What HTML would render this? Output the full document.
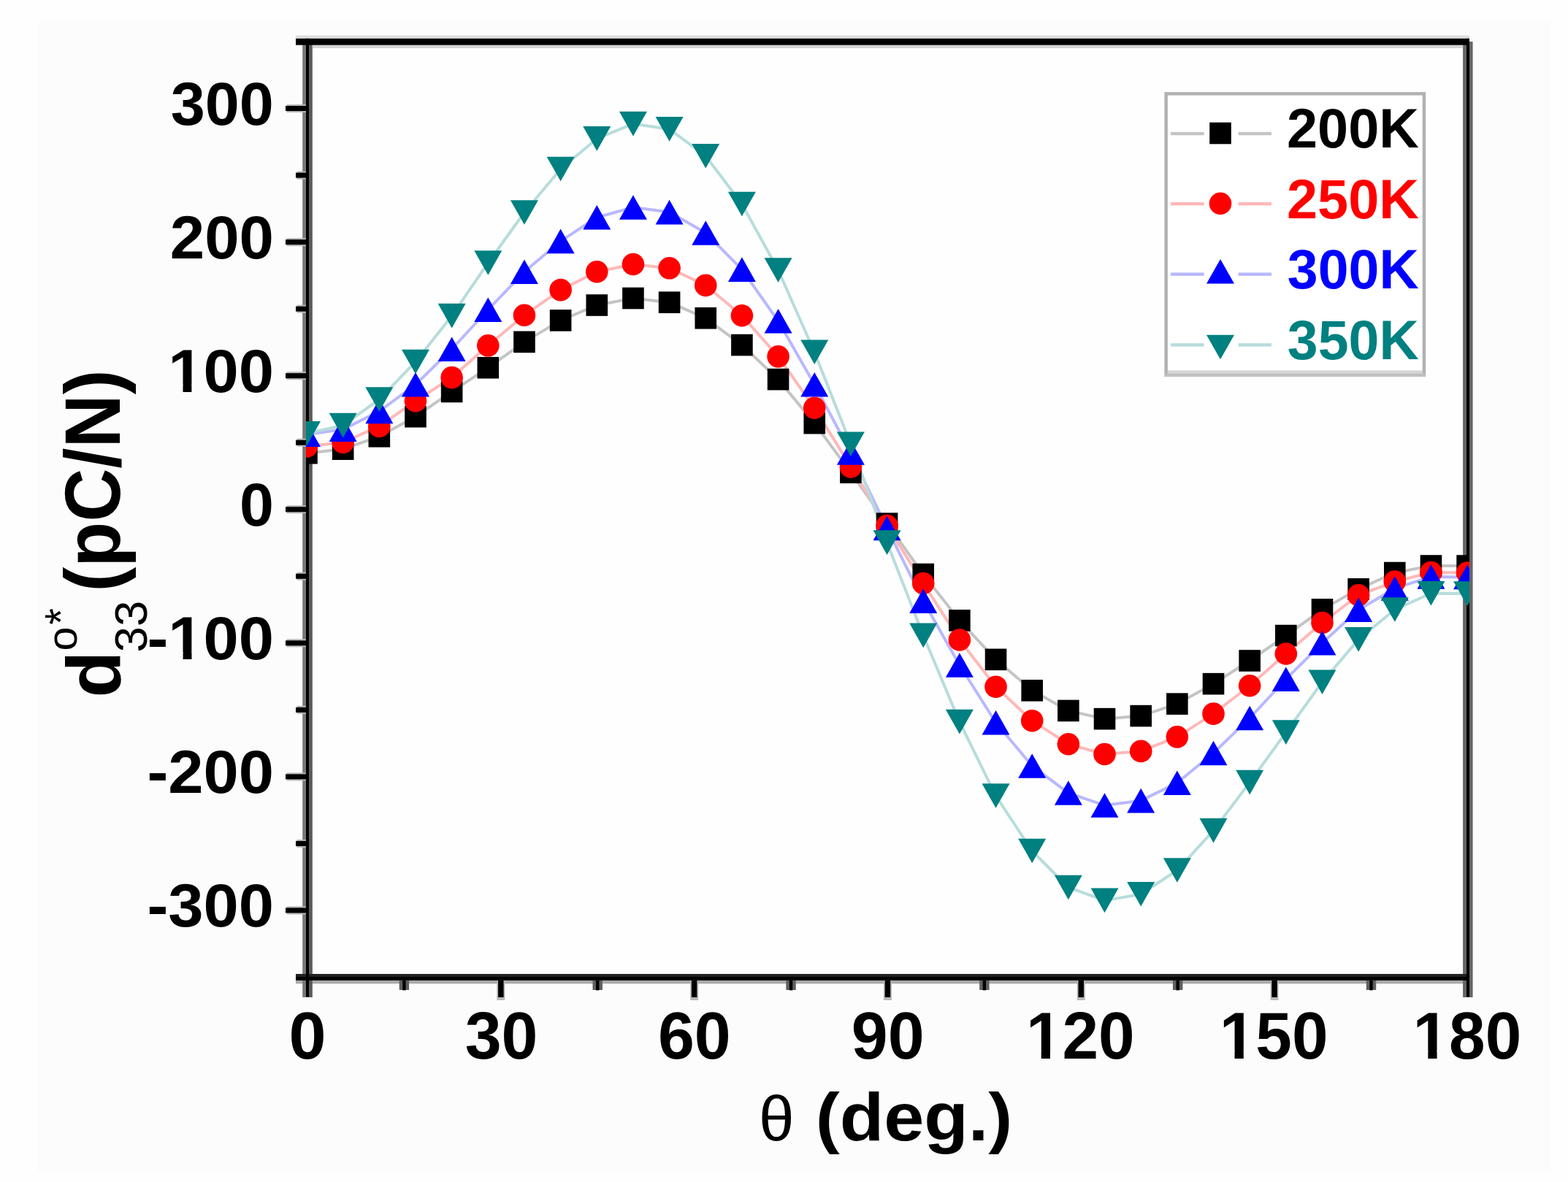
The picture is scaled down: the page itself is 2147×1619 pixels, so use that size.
<!DOCTYPE html><html><head><meta charset="utf-8"><title>d33 vs theta</title><style>html,body{margin:0;padding:0;background:#fefefe;}svg{display:block;}text{font-family:"Liberation Sans",Arial,sans-serif;}</style></head><body>
<svg width="2147" height="1619" viewBox="0 0 2147 1619">
<defs><clipPath id="pc"><rect x="419" y="40" width="1593" height="1310"/></clipPath></defs>
<rect x="0" y="0" width="2147" height="1619" fill="#fefefe"/>
<rect x="51" y="29" width="2072" height="1576" fill="#fcfcfc"/>
<rect x="421.0" y="57.3" width="1588.9" height="1281.1" fill="#fefefe"/>
<rect x="405" y="1342.8" width="1611" height="4.6" fill="#aaa"/>
<rect x="414.2" y="57" width="4.7" height="1309" fill="#777"/>
<rect x="423.1" y="57" width="4.7" height="1309" fill="#5a5a5a"/>
<rect x="2003.1" y="57" width="4.7" height="1309" fill="#666"/>
<rect x="2011.9" y="57" width="4.7" height="1309" fill="#666"/>
<rect x="405" y="48.5" width="1607" height="4.4" fill="#dedede"/>
<rect x="427.8" y="61.6" width="1575.3" height="4.4" fill="#d4d4d4"/>
<rect x="405" y="1334" width="1607" height="4.4" fill="#222"/>
<rect x="392.5" y="1241.46" width="26.5" height="11" fill="#b8b8b8"/>
<rect x="391.0" y="1243.46" width="28.0" height="7" fill="#000"/>
<rect x="406.5" y="1149.92" width="12.5" height="11" fill="#b8b8b8"/>
<rect x="405.0" y="1151.92" width="14.0" height="7" fill="#000"/>
<rect x="392.5" y="1058.39" width="26.5" height="11" fill="#b8b8b8"/>
<rect x="391.0" y="1060.39" width="28.0" height="7" fill="#000"/>
<rect x="406.5" y="966.86" width="12.5" height="11" fill="#b8b8b8"/>
<rect x="405.0" y="968.86" width="14.0" height="7" fill="#000"/>
<rect x="392.5" y="875.32" width="26.5" height="11" fill="#b8b8b8"/>
<rect x="391.0" y="877.32" width="28.0" height="7" fill="#000"/>
<rect x="406.5" y="783.78" width="12.5" height="11" fill="#b8b8b8"/>
<rect x="405.0" y="785.78" width="14.0" height="7" fill="#000"/>
<rect x="392.5" y="692.25" width="26.5" height="11" fill="#b8b8b8"/>
<rect x="391.0" y="694.25" width="28.0" height="7" fill="#000"/>
<rect x="406.5" y="600.72" width="12.5" height="11" fill="#b8b8b8"/>
<rect x="405.0" y="602.72" width="14.0" height="7" fill="#000"/>
<rect x="392.5" y="509.18" width="26.5" height="11" fill="#b8b8b8"/>
<rect x="391.0" y="511.18" width="28.0" height="7" fill="#000"/>
<rect x="406.5" y="417.64" width="12.5" height="11" fill="#b8b8b8"/>
<rect x="405.0" y="419.64" width="14.0" height="7" fill="#000"/>
<rect x="392.5" y="326.11" width="26.5" height="11" fill="#b8b8b8"/>
<rect x="391.0" y="328.11" width="28.0" height="7" fill="#000"/>
<rect x="406.5" y="234.57" width="12.5" height="11" fill="#b8b8b8"/>
<rect x="405.0" y="236.57" width="14.0" height="7" fill="#000"/>
<rect x="392.5" y="143.04" width="26.5" height="11" fill="#b8b8b8"/>
<rect x="391.0" y="145.04" width="28.0" height="7" fill="#000"/>
<rect x="546.71" y="1343" width="13.4" height="13" fill="#606060"/>
<rect x="551.21" y="1343" width="4.4" height="13.4" fill="#000"/>
<rect x="680.32" y="1343" width="11" height="27" fill="#b8b8b8"/>
<rect x="682.07" y="1343" width="7.5" height="23" fill="#000"/>
<rect x="811.52" y="1343" width="13.4" height="13" fill="#606060"/>
<rect x="816.02" y="1343" width="4.4" height="13.4" fill="#000"/>
<rect x="945.13" y="1343" width="11" height="27" fill="#b8b8b8"/>
<rect x="946.88" y="1343" width="7.5" height="23" fill="#000"/>
<rect x="1076.34" y="1343" width="13.4" height="13" fill="#606060"/>
<rect x="1080.84" y="1343" width="4.4" height="13.4" fill="#000"/>
<rect x="1209.95" y="1343" width="11" height="27" fill="#b8b8b8"/>
<rect x="1211.70" y="1343" width="7.5" height="23" fill="#000"/>
<rect x="1341.16" y="1343" width="13.4" height="13" fill="#606060"/>
<rect x="1345.66" y="1343" width="4.4" height="13.4" fill="#000"/>
<rect x="1474.77" y="1343" width="11" height="27" fill="#b8b8b8"/>
<rect x="1476.52" y="1343" width="7.5" height="23" fill="#000"/>
<rect x="1605.97" y="1343" width="13.4" height="13" fill="#606060"/>
<rect x="1610.47" y="1343" width="4.4" height="13.4" fill="#000"/>
<rect x="1739.58" y="1343" width="11" height="27" fill="#b8b8b8"/>
<rect x="1741.33" y="1343" width="7.5" height="23" fill="#000"/>
<rect x="1870.79" y="1343" width="13.4" height="13" fill="#606060"/>
<rect x="1875.29" y="1343" width="4.4" height="13.4" fill="#000"/>
<rect x="418.9" y="52.8" width="4.2" height="1313" fill="#000"/>
<rect x="2007.8" y="52.8" width="4.2" height="1313" fill="#000"/>
<rect x="405" y="52.8" width="1607" height="8.9" fill="#000"/>
<rect x="405" y="1338.0" width="1607" height="4.9" fill="#000"/>
<polyline points="420.00,620.68 469.66,615.19 519.32,597.79 568.98,570.70 618.64,536.47 668.30,503.70 717.96,468.36 767.62,438.89 817.28,418.02 866.94,408.50 916.60,414.17 966.26,435.78 1015.92,472.57 1065.58,519.62 1115.24,579.67 1164.90,647.22 1214.56,717.16 1264.22,786.54 1313.88,849.88 1363.54,903.34 1413.20,945.81 1462.86,973.45 1512.52,984.62 1562.18,980.59 1611.84,964.12 1661.50,936.66 1711.16,904.99 1760.82,870.57 1810.48,834.87 1860.14,806.86 1909.80,784.53 1959.46,775.01 2009.12,775.01" fill="none" stroke="#c4c4c4" stroke-width="4.0" stroke-linejoin="round" clip-path="url(#pc)"/>
<polyline points="420.00,611.52 469.66,606.03 519.32,583.88 568.98,549.28 618.64,517.06 668.30,473.31 717.96,431.75 767.62,397.15 817.28,372.25 866.94,362.00 916.60,367.31 966.26,390.92 1015.92,432.30 1065.58,488.32 1115.24,558.80 1164.90,639.35 1214.56,720.08 1264.22,798.99 1313.88,876.43 1363.54,940.68 1413.20,987.18 1462.86,1019.22 1512.52,1032.95 1562.18,1028.92 1611.84,1009.34 1661.50,977.66 1711.16,939.22 1760.82,895.47 1810.48,852.99 1860.14,815.28 1909.80,796.61 1959.46,783.98 2009.12,784.53" fill="none" stroke="#ffb8b8" stroke-width="4.0" stroke-linejoin="round" clip-path="url(#pc)"/>
<polyline points="420.00,595.23 469.66,588.09 519.32,563.38 568.98,526.76 618.64,478.25 668.30,424.24 717.96,372.25 767.62,330.33 817.28,297.74 866.94,284.01 916.60,290.60 966.26,318.98 1015.92,369.14 1065.58,439.80 1115.24,526.76 1164.90,619.95 1214.56,723.56 1264.22,823.15 1313.88,911.03 1363.54,989.75 1413.20,1049.06 1462.86,1086.04 1512.52,1103.07 1562.18,1096.66 1611.84,1072.31 1661.50,1031.49 1711.16,983.52 1760.82,930.25 1810.48,880.82 1860.14,835.24 1909.80,805.94 1959.46,790.02 2009.12,790.57" fill="none" stroke="#b8b8ff" stroke-width="4.0" stroke-linejoin="round" clip-path="url(#pc)"/>
<polyline points="420.00,593.77 469.66,582.60 519.32,547.08 568.98,495.46 618.64,432.66 668.30,359.99 717.96,290.97 767.62,231.47 817.28,189.91 866.94,169.59 916.60,176.92 966.26,213.71 1015.92,279.44 1065.58,370.05 1115.24,482.28 1164.90,608.23 1214.56,743.15 1264.22,870.39 1313.88,988.65 1363.54,1090.07 1413.20,1165.49 1462.86,1215.47 1512.52,1233.41 1562.18,1224.81 1611.84,1192.04 1661.50,1137.67 1711.16,1071.58 1760.82,1003.11 1810.48,934.28 1860.14,875.88 1909.80,835.05 1959.46,812.72 2009.12,813.08" fill="none" stroke="#b8dcdc" stroke-width="4.0" stroke-linejoin="round" clip-path="url(#pc)"/>
<g clip-path="url(#pc)">
<rect x="405.20" y="605.88" width="29.6" height="29.6" fill="#000000"/>
<rect x="454.86" y="600.39" width="29.6" height="29.6" fill="#000000"/>
<rect x="504.52" y="582.99" width="29.6" height="29.6" fill="#000000"/>
<rect x="554.18" y="555.90" width="29.6" height="29.6" fill="#000000"/>
<rect x="603.84" y="521.67" width="29.6" height="29.6" fill="#000000"/>
<rect x="653.50" y="488.90" width="29.6" height="29.6" fill="#000000"/>
<rect x="703.16" y="453.56" width="29.6" height="29.6" fill="#000000"/>
<rect x="752.82" y="424.09" width="29.6" height="29.6" fill="#000000"/>
<rect x="802.48" y="403.22" width="29.6" height="29.6" fill="#000000"/>
<rect x="852.14" y="393.70" width="29.6" height="29.6" fill="#000000"/>
<rect x="901.80" y="399.37" width="29.6" height="29.6" fill="#000000"/>
<rect x="951.46" y="420.98" width="29.6" height="29.6" fill="#000000"/>
<rect x="1001.12" y="457.77" width="29.6" height="29.6" fill="#000000"/>
<rect x="1050.78" y="504.82" width="29.6" height="29.6" fill="#000000"/>
<rect x="1100.44" y="564.87" width="29.6" height="29.6" fill="#000000"/>
<rect x="1150.10" y="632.42" width="29.6" height="29.6" fill="#000000"/>
<rect x="1199.76" y="702.36" width="29.6" height="29.6" fill="#000000"/>
<rect x="1249.42" y="771.74" width="29.6" height="29.6" fill="#000000"/>
<rect x="1299.08" y="835.08" width="29.6" height="29.6" fill="#000000"/>
<rect x="1348.74" y="888.54" width="29.6" height="29.6" fill="#000000"/>
<rect x="1398.40" y="931.01" width="29.6" height="29.6" fill="#000000"/>
<rect x="1448.06" y="958.65" width="29.6" height="29.6" fill="#000000"/>
<rect x="1497.72" y="969.82" width="29.6" height="29.6" fill="#000000"/>
<rect x="1547.38" y="965.79" width="29.6" height="29.6" fill="#000000"/>
<rect x="1597.04" y="949.32" width="29.6" height="29.6" fill="#000000"/>
<rect x="1646.70" y="921.86" width="29.6" height="29.6" fill="#000000"/>
<rect x="1696.36" y="890.19" width="29.6" height="29.6" fill="#000000"/>
<rect x="1746.02" y="855.77" width="29.6" height="29.6" fill="#000000"/>
<rect x="1795.68" y="820.07" width="29.6" height="29.6" fill="#000000"/>
<rect x="1845.34" y="792.06" width="29.6" height="29.6" fill="#000000"/>
<rect x="1895.00" y="769.73" width="29.6" height="29.6" fill="#000000"/>
<rect x="1944.66" y="760.21" width="29.6" height="29.6" fill="#000000"/>
<rect x="1994.32" y="760.21" width="29.6" height="29.6" fill="#000000"/>
<circle cx="420.00" cy="611.52" r="15.3" fill="#ff0000"/>
<circle cx="469.66" cy="606.03" r="15.3" fill="#ff0000"/>
<circle cx="519.32" cy="583.88" r="15.3" fill="#ff0000"/>
<circle cx="568.98" cy="549.28" r="15.3" fill="#ff0000"/>
<circle cx="618.64" cy="517.06" r="15.3" fill="#ff0000"/>
<circle cx="668.30" cy="473.31" r="15.3" fill="#ff0000"/>
<circle cx="717.96" cy="431.75" r="15.3" fill="#ff0000"/>
<circle cx="767.62" cy="397.15" r="15.3" fill="#ff0000"/>
<circle cx="817.28" cy="372.25" r="15.3" fill="#ff0000"/>
<circle cx="866.94" cy="362.00" r="15.3" fill="#ff0000"/>
<circle cx="916.60" cy="367.31" r="15.3" fill="#ff0000"/>
<circle cx="966.26" cy="390.92" r="15.3" fill="#ff0000"/>
<circle cx="1015.92" cy="432.30" r="15.3" fill="#ff0000"/>
<circle cx="1065.58" cy="488.32" r="15.3" fill="#ff0000"/>
<circle cx="1115.24" cy="558.80" r="15.3" fill="#ff0000"/>
<circle cx="1164.90" cy="639.35" r="15.3" fill="#ff0000"/>
<circle cx="1214.56" cy="720.08" r="15.3" fill="#ff0000"/>
<circle cx="1264.22" cy="798.99" r="15.3" fill="#ff0000"/>
<circle cx="1313.88" cy="876.43" r="15.3" fill="#ff0000"/>
<circle cx="1363.54" cy="940.68" r="15.3" fill="#ff0000"/>
<circle cx="1413.20" cy="987.18" r="15.3" fill="#ff0000"/>
<circle cx="1462.86" cy="1019.22" r="15.3" fill="#ff0000"/>
<circle cx="1512.52" cy="1032.95" r="15.3" fill="#ff0000"/>
<circle cx="1562.18" cy="1028.92" r="15.3" fill="#ff0000"/>
<circle cx="1611.84" cy="1009.34" r="15.3" fill="#ff0000"/>
<circle cx="1661.50" cy="977.66" r="15.3" fill="#ff0000"/>
<circle cx="1711.16" cy="939.22" r="15.3" fill="#ff0000"/>
<circle cx="1760.82" cy="895.47" r="15.3" fill="#ff0000"/>
<circle cx="1810.48" cy="852.99" r="15.3" fill="#ff0000"/>
<circle cx="1860.14" cy="815.28" r="15.3" fill="#ff0000"/>
<circle cx="1909.80" cy="796.61" r="15.3" fill="#ff0000"/>
<circle cx="1959.46" cy="783.98" r="15.3" fill="#ff0000"/>
<circle cx="2009.12" cy="784.53" r="15.3" fill="#ff0000"/>
<path d="M420.00 578.43L439.00 612.03L401.00 612.03Z" fill="#0000ff"/>
<path d="M469.66 571.29L488.66 604.89L450.66 604.89Z" fill="#0000ff"/>
<path d="M519.32 546.58L538.32 580.18L500.32 580.18Z" fill="#0000ff"/>
<path d="M568.98 509.96L587.98 543.56L549.98 543.56Z" fill="#0000ff"/>
<path d="M618.64 461.45L637.64 495.05L599.64 495.05Z" fill="#0000ff"/>
<path d="M668.30 407.44L687.30 441.04L649.30 441.04Z" fill="#0000ff"/>
<path d="M717.96 355.45L736.96 389.05L698.96 389.05Z" fill="#0000ff"/>
<path d="M767.62 313.53L786.62 347.13L748.62 347.13Z" fill="#0000ff"/>
<path d="M817.28 280.94L836.28 314.54L798.28 314.54Z" fill="#0000ff"/>
<path d="M866.94 267.21L885.94 300.81L847.94 300.81Z" fill="#0000ff"/>
<path d="M916.60 273.80L935.60 307.40L897.60 307.40Z" fill="#0000ff"/>
<path d="M966.26 302.18L985.26 335.78L947.26 335.78Z" fill="#0000ff"/>
<path d="M1015.92 352.34L1034.92 385.94L996.92 385.94Z" fill="#0000ff"/>
<path d="M1065.58 423.00L1084.58 456.60L1046.58 456.60Z" fill="#0000ff"/>
<path d="M1115.24 509.96L1134.24 543.56L1096.24 543.56Z" fill="#0000ff"/>
<path d="M1164.90 603.15L1183.90 636.75L1145.90 636.75Z" fill="#0000ff"/>
<path d="M1214.56 706.76L1233.56 740.36L1195.56 740.36Z" fill="#0000ff"/>
<path d="M1264.22 806.35L1283.22 839.95L1245.22 839.95Z" fill="#0000ff"/>
<path d="M1313.88 894.23L1332.88 927.83L1294.88 927.83Z" fill="#0000ff"/>
<path d="M1363.54 972.95L1382.54 1006.55L1344.54 1006.55Z" fill="#0000ff"/>
<path d="M1413.20 1032.26L1432.20 1065.86L1394.20 1065.86Z" fill="#0000ff"/>
<path d="M1462.86 1069.24L1481.86 1102.84L1443.86 1102.84Z" fill="#0000ff"/>
<path d="M1512.52 1086.27L1531.52 1119.87L1493.52 1119.87Z" fill="#0000ff"/>
<path d="M1562.18 1079.86L1581.18 1113.46L1543.18 1113.46Z" fill="#0000ff"/>
<path d="M1611.84 1055.51L1630.84 1089.11L1592.84 1089.11Z" fill="#0000ff"/>
<path d="M1661.50 1014.69L1680.50 1048.29L1642.50 1048.29Z" fill="#0000ff"/>
<path d="M1711.16 966.72L1730.16 1000.32L1692.16 1000.32Z" fill="#0000ff"/>
<path d="M1760.82 913.45L1779.82 947.05L1741.82 947.05Z" fill="#0000ff"/>
<path d="M1810.48 864.02L1829.48 897.62L1791.48 897.62Z" fill="#0000ff"/>
<path d="M1860.14 818.44L1879.14 852.04L1841.14 852.04Z" fill="#0000ff"/>
<path d="M1909.80 789.14L1928.80 822.74L1890.80 822.74Z" fill="#0000ff"/>
<path d="M1959.46 773.22L1978.46 806.82L1940.46 806.82Z" fill="#0000ff"/>
<path d="M2009.12 773.77L2028.12 807.37L1990.12 807.37Z" fill="#0000ff"/>
<path d="M401.00 576.97L439.00 576.97L420.00 610.57Z" fill="#008080"/>
<path d="M450.66 565.80L488.66 565.80L469.66 599.40Z" fill="#008080"/>
<path d="M500.32 530.28L538.32 530.28L519.32 563.88Z" fill="#008080"/>
<path d="M549.98 478.66L587.98 478.66L568.98 512.26Z" fill="#008080"/>
<path d="M599.64 415.86L637.64 415.86L618.64 449.46Z" fill="#008080"/>
<path d="M649.30 343.19L687.30 343.19L668.30 376.79Z" fill="#008080"/>
<path d="M698.96 274.17L736.96 274.17L717.96 307.77Z" fill="#008080"/>
<path d="M748.62 214.67L786.62 214.67L767.62 248.27Z" fill="#008080"/>
<path d="M798.28 173.11L836.28 173.11L817.28 206.71Z" fill="#008080"/>
<path d="M847.94 152.79L885.94 152.79L866.94 186.39Z" fill="#008080"/>
<path d="M897.60 160.12L935.60 160.12L916.60 193.72Z" fill="#008080"/>
<path d="M947.26 196.91L985.26 196.91L966.26 230.51Z" fill="#008080"/>
<path d="M996.92 262.64L1034.92 262.64L1015.92 296.24Z" fill="#008080"/>
<path d="M1046.58 353.25L1084.58 353.25L1065.58 386.85Z" fill="#008080"/>
<path d="M1096.24 465.48L1134.24 465.48L1115.24 499.08Z" fill="#008080"/>
<path d="M1145.90 591.43L1183.90 591.43L1164.90 625.03Z" fill="#008080"/>
<path d="M1195.56 726.35L1233.56 726.35L1214.56 759.95Z" fill="#008080"/>
<path d="M1245.22 853.59L1283.22 853.59L1264.22 887.19Z" fill="#008080"/>
<path d="M1294.88 971.85L1332.88 971.85L1313.88 1005.45Z" fill="#008080"/>
<path d="M1344.54 1073.27L1382.54 1073.27L1363.54 1106.87Z" fill="#008080"/>
<path d="M1394.20 1148.69L1432.20 1148.69L1413.20 1182.29Z" fill="#008080"/>
<path d="M1443.86 1198.67L1481.86 1198.67L1462.86 1232.27Z" fill="#008080"/>
<path d="M1493.52 1216.61L1531.52 1216.61L1512.52 1250.21Z" fill="#008080"/>
<path d="M1543.18 1208.01L1581.18 1208.01L1562.18 1241.61Z" fill="#008080"/>
<path d="M1592.84 1175.24L1630.84 1175.24L1611.84 1208.84Z" fill="#008080"/>
<path d="M1642.50 1120.87L1680.50 1120.87L1661.50 1154.47Z" fill="#008080"/>
<path d="M1692.16 1054.78L1730.16 1054.78L1711.16 1088.38Z" fill="#008080"/>
<path d="M1741.82 986.31L1779.82 986.31L1760.82 1019.91Z" fill="#008080"/>
<path d="M1791.48 917.48L1829.48 917.48L1810.48 951.08Z" fill="#008080"/>
<path d="M1841.14 859.08L1879.14 859.08L1860.14 892.68Z" fill="#008080"/>
<path d="M1890.80 818.25L1928.80 818.25L1909.80 851.85Z" fill="#008080"/>
<path d="M1940.46 795.92L1978.46 795.92L1959.46 829.52Z" fill="#008080"/>
<path d="M1990.12 796.28L2028.12 796.28L2009.12 829.88Z" fill="#008080"/>
</g>
<g transform="translate(233.76,170.71) scale(1.0205,1)"><text font-size="82.88" font-weight="bold" fill="#000">300</text></g>
<g transform="translate(232.75,353.90) scale(1.0259,1)"><text font-size="83.05" font-weight="bold" fill="#000">200</text></g>
<g transform="translate(230.24,536.97) scale(1.0444,1)"><text font-size="83.05" font-weight="bold" fill="#000">100</text><rect x="2.43" y="-9.94" width="16.95" height="10.75" fill="#fcfcfc"/><rect x="30.78" y="-9.94" width="15.04" height="10.75" fill="#fcfcfc"/></g>
<g transform="translate(327.97,720.04) scale(1.0153,1)"><text font-size="83.05" font-weight="bold" fill="#000">0</text></g>
<g transform="translate(201.51,903.11) scale(1.0434,1)"><text font-size="83.05" font-weight="bold" fill="#000">-100</text><rect x="30.09" y="-9.94" width="16.95" height="10.75" fill="#fcfcfc"/><rect x="58.44" y="-9.94" width="15.04" height="10.75" fill="#fcfcfc"/></g>
<g transform="translate(201.51,1086.18) scale(1.0434,1)"><text font-size="83.05" font-weight="bold" fill="#000">-200</text></g>
<g transform="translate(201.51,1269.13) scale(1.0456,1)"><text font-size="82.88" font-weight="bold" fill="#000">-300</text></g>
<g transform="translate(395.54,1450.11) scale(1.0091,1)"><text font-size="90.96" font-weight="bold" fill="#000">0</text></g>
<g transform="translate(636.73,1449.98) scale(0.9884,1)"><text font-size="90.77" font-weight="bold" fill="#000">30</text></g>
<g transform="translate(900.92,1450.11) scale(0.9866,1)"><text font-size="90.96" font-weight="bold" fill="#000">60</text></g>
<g transform="translate(1165.83,1450.11) scale(0.9866,1)"><text font-size="90.96" font-weight="bold" fill="#000">90</text></g>
<g transform="translate(1404.92,1450.11) scale(0.9801,1)"><text font-size="90.96" font-weight="bold" fill="#000">120</text><rect x="2.66" y="-10.88" width="18.56" height="11.77" fill="#fcfcfc"/><rect x="33.71" y="-10.88" width="16.48" height="11.77" fill="#fcfcfc"/></g>
<g transform="translate(1669.73,1450.11) scale(0.9801,1)"><text font-size="90.96" font-weight="bold" fill="#000">150</text><rect x="2.66" y="-10.88" width="18.56" height="11.77" fill="#fcfcfc"/><rect x="33.71" y="-10.88" width="16.48" height="11.77" fill="#fcfcfc"/></g>
<g transform="translate(1934.55,1450.11) scale(0.9801,1)"><text font-size="90.96" font-weight="bold" fill="#000">180</text><rect x="2.66" y="-10.88" width="18.56" height="11.77" fill="#fcfcfc"/><rect x="33.71" y="-10.88" width="16.48" height="11.77" fill="#fcfcfc"/></g>
<g transform="translate(1039.08,1561.76) scale(1.0102,1)"><text font-size="86.39" font-weight="normal" fill="#000">θ</text></g>
<g transform="translate(1116.67,1561.60) scale(1.0715,1)"><text font-size="92.47" font-weight="bold" fill="#000">(deg.)</text></g>
<text transform="rotate(-90) translate(-955.58,163.79) scale(1.0100,1)" font-size="103.35" font-weight="bold" fill="#000">d</text>
<text transform="rotate(-90) translate(-891.59,105.24) scale(1.0413,1)" font-size="56.95" font-weight="normal" fill="#000">o</text>
<text transform="rotate(-90) translate(-855.64,103.73) scale(0.9503,1)" font-size="61.24" font-weight="normal" fill="#000">*</text>
<text transform="rotate(-90) translate(-893.43,201.19) scale(1.0199,1)" font-size="62.43" font-weight="normal" fill="#000">33</text>
<text transform="rotate(-90) translate(-810.45,163.57) scale(0.9417,1)" font-size="107.60" font-weight="bold" fill="#000">(pC/N)</text>
<rect x="1596.65" y="128.35" width="353.3" height="385.2" fill="#ffffff" stroke="#b2b2b2" stroke-width="4.5"/>
<rect x="1598.9" y="507.3" width="349" height="4.4" fill="#d6d6d6"/>
<rect x="1594.4" y="511.7" width="357.8" height="4.2" fill="#c0c0c0"/>
<rect x="1603" y="180.8" width="45.7" height="4.4" fill="#c4c4c4"/>
<rect x="1695.6" y="180.8" width="45.4" height="4.4" fill="#c4c4c4"/>
<rect x="1656.20" y="167.70" width="29.6" height="29.6" fill="#000000"/>
<g transform="translate(1761.98,202.46) scale(0.9960,1)"><text font-size="75.99" font-weight="bold" fill="#000000">200K</text></g>
<rect x="1603" y="277.0" width="45.7" height="4.4" fill="#ffb8b8"/>
<rect x="1695.6" y="277.0" width="45.4" height="4.4" fill="#ffb8b8"/>
<circle cx="1671.00" cy="278.70" r="15.3" fill="#ff0000"/>
<g transform="translate(1761.98,298.96) scale(0.9960,1)"><text font-size="75.99" font-weight="bold" fill="#ff0000">250K</text></g>
<rect x="1603" y="373.4" width="45.7" height="4.4" fill="#b8b8ff"/>
<rect x="1695.6" y="373.4" width="45.4" height="4.4" fill="#b8b8ff"/>
<path d="M1671.00 355.00L1690.00 388.60L1652.00 388.60Z" fill="#0000ff"/>
<g transform="translate(1762.87,395.35) scale(0.9931,1)"><text font-size="75.83" font-weight="bold" fill="#0000ff">300K</text></g>
<rect x="1603" y="470.2" width="45.7" height="4.4" fill="#b8dcdc"/>
<rect x="1695.6" y="470.2" width="45.4" height="4.4" fill="#b8dcdc"/>
<path d="M1652.00 458.70L1690.00 458.70L1671.00 492.30Z" fill="#008080"/>
<g transform="translate(1762.87,491.85) scale(0.9931,1)"><text font-size="75.83" font-weight="bold" fill="#008080">350K</text></g>
</svg></body></html>
